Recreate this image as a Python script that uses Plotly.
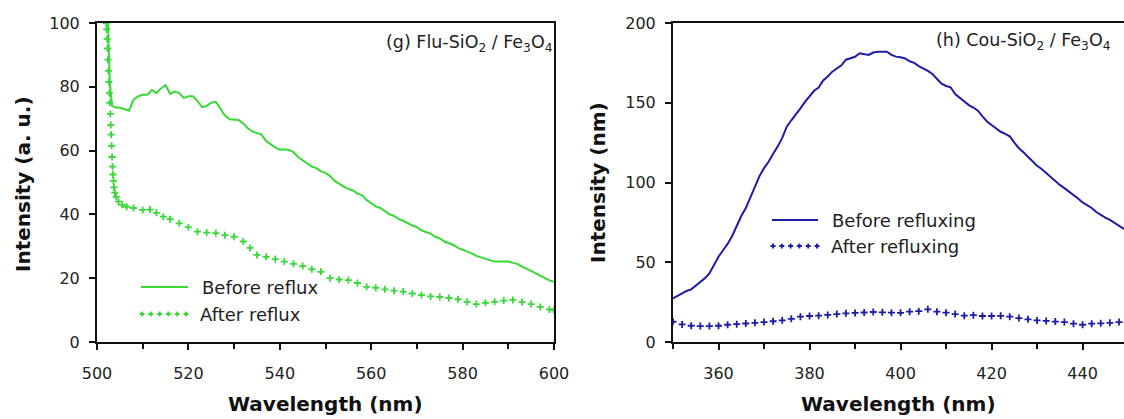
import plotly.graph_objects as go

# ---------------- data: panel (g) Flu-SiO2 / Fe3O4 ----------------
g_before_x = [502.4, 502.8, 503.3, 504, 505, 506, 507, 508, 509, 510, 511, 512, 513, 514, 515, 516,
              517, 518, 519, 520, 521, 522, 523, 524, 525, 526, 527, 528, 529, 530, 531, 532, 533,
              534, 535, 536, 537, 538, 539, 540, 541, 542, 543, 544, 545, 546, 547, 548, 549, 550,
              551, 552, 553, 554, 555, 556, 557, 558, 559, 560, 561, 562, 563, 564, 565, 566, 567,
              568, 569, 570, 571, 572, 573, 574, 575, 576, 577, 578, 579, 580, 581, 582, 583, 584,
              585, 586, 587, 588, 589, 590, 591, 592, 593, 594, 595, 596, 597, 598, 599, 600]
g_before_y = [101, 81, 74, 73.5, 73.5, 73, 72.5, 76, 77, 77.5, 77.5, 79, 78, 79.5, 80.5, 77.8,
              78.5, 78, 76.5, 77, 77, 75.5, 73.6, 74, 75, 75.3, 73, 71, 69.8, 69.8, 69.6, 68.5, 67,
              66, 65.6, 65, 63, 62, 61, 60.3, 60.4, 60.2, 59.5, 58, 57, 56, 55, 54.5, 53.5, 53,
              52, 50.5, 49.5, 48.7, 48, 47.5, 46.5, 46, 44.5, 43.5, 42.5, 42, 41, 40, 39.5, 38.5, 38,
              37.2, 36.5, 36, 35, 34.5, 34, 33, 32.5, 31.5, 31, 30.4, 29.5, 29, 28.5, 27.8, 27, 26.5,
              26, 25.5, 25.2, 25.2, 25.3, 25.2, 24.8, 24.5, 23.6, 23, 22.3, 21.5, 20.8, 20, 19.3, 18.9]

g_after_x = [502.0, 502.1, 502.2, 502.3, 502.4, 502.5, 502.6, 502.7, 502.8, 502.9, 503.0, 503.1,
             503.2, 503.3, 503.4, 503.5, 503.6, 503.7, 503.9, 504.2, 504.7, 505.5, 506.5, 508,
             510, 511.6, 513, 514.5, 516, 518, 520, 522, 524, 526, 528, 530, 532, 533.5, 535, 537,
             539, 541, 543, 545, 547, 549, 551, 553, 555, 557, 559, 561, 563, 565, 567, 569, 571,
             573, 575, 577, 579, 581, 583, 585, 587, 589, 591, 593, 595, 597, 599, 600]
g_after_y = [100, 98, 95, 92, 88.5, 85, 81.5, 78, 75, 71.5, 68, 65, 61.5, 58, 55, 52.5, 50.5, 48.5,
             46.8, 45.5, 44, 43, 42.4, 42, 41.4, 41.5, 40.5, 39.3, 38.5, 37.2, 36, 34.6, 34.3, 34.1,
             33.5, 33, 31.5, 29.5, 27.3, 26.7, 26, 25.2, 24.5, 23.8, 22.8, 22, 20, 19.6, 19.4, 18.5,
             17.3, 17, 16.5, 16.1, 15.8, 15.2, 14.7, 14.3, 14.1, 13.8, 13.4, 12.6, 11.9, 12.3, 12.6,
             13, 13.2, 12.5, 11.9, 11, 10.2, 10]

# ---------------- data: panel (h) Cou-SiO2 / Fe3O4 ----------------
h_before_x = list(range(350, 451))
h_before_y = [27.4, 29, 30.5, 32, 33, 35.2, 37.5, 40, 43, 48, 53.5, 57.5, 61.5, 66.5, 73, 79, 84,
              91, 98, 104, 109, 113, 118, 122.5, 128, 135, 139, 142.5, 146.5, 150.5, 154, 157.5,
              159.5, 164, 166.5, 169.5, 171.5, 173.5, 177, 178, 178.8, 181, 180.5, 180, 181.5, 182,
              182, 182, 180, 178.9, 178.5, 177.8, 176, 175, 173, 171.6, 170, 168, 165, 162, 160.5,
              159.7, 155.5, 153, 151, 148.5, 147, 145, 141.5, 138.3, 136, 134, 131.8, 130.5, 129,
              125, 121.5, 119, 116, 113, 110.5, 108.5, 106, 103.5, 100.5, 98.5, 96.5, 94.5, 92.5,
              90, 87.5, 86, 84, 81.5, 79.5, 78, 76.5, 74.5, 72.5, 71, 69.5]

h_after_x = list(range(350, 451, 2))
h_after_y = [12.7, 11, 10.2, 10, 10, 10.2, 10.8, 11.2, 11.6, 12, 12.5, 13, 13.6, 14.5, 15.9, 16.3,
             16.5, 17, 17.5, 18, 18.2, 18.5, 18.8, 18.6, 18.4, 18.3, 19, 19.3, 20.5, 19, 18.4, 17.5,
             16.5, 16.8, 16.3, 16.3, 16.4, 15.9, 15, 14.2, 13.5, 13.2, 12.8, 12.5, 11.5, 10.8, 11.5,
             11.7, 12, 12.5, 12.7]

g_xticks = [500, 520, 540, 560, 580, 600]
g_yticks = [0, 20, 40, 60, 80, 100]
h_xticks = [360, 380, 400, 420, 440]
h_yticks = [0, 50, 100, 150, 200]

names_g = ["Before reflux", "After reflux"]
names_h = ["Before refluxing", "After refluxing"]

# ---------------- style ----------------
W, H = 1124, 419
GREEN = "rgb(55,216,55)"
BLUE = "rgb(28,28,165)"
AXC = "#111111"
TICKFONT = dict(family="DejaVu Sans", size=16, color="#222222")
TITLEFONT = dict(family="DejaVu Sans", size=20, color="#111111")


def px(x):
    return x / W


def py(y):
    return 1 - y / H


fig = go.Figure()
fig.add_trace(go.Scatter(x=g_before_x, y=g_before_y, mode="lines", name=names_g[0],
                         line=dict(color=GREEN, width=2), xaxis="x", yaxis="y", showlegend=False))
fig.add_trace(go.Scatter(x=g_after_x, y=g_after_y, mode="markers", name=names_g[1],
                         marker=dict(symbol="cross-thin", size=5, color=GREEN,
                                     line=dict(color=GREEN, width=1.8)),
                         xaxis="x", yaxis="y", showlegend=False))
fig.add_trace(go.Scatter(x=h_before_x, y=h_before_y, mode="lines", name=names_h[0],
                         line=dict(color=BLUE, width=2), xaxis="x2", yaxis="y2", showlegend=False))
fig.add_trace(go.Scatter(x=h_after_x, y=h_after_y, mode="markers", name=names_h[1],
                         marker=dict(symbol="cross-thin", size=5, color=BLUE,
                                     line=dict(color=BLUE, width=1.8)),
                         xaxis="x2", yaxis="y2", showlegend=False))

ydom = [py(342), py(23)]
common = dict(showgrid=False, zeroline=False, showline=True, linecolor=AXC, linewidth=2,
              ticks="outside", ticklen=6, tickwidth=2, tickcolor=AXC, tickfont=TICKFONT,
              automargin=False)
minor = dict(ticks="outside", dtick=10, ticklen=5, tickwidth=2, tickcolor=AXC, showgrid=False)

fig.update_layout(
    width=W, height=H,
    margin=dict(l=0, r=0, t=0, b=0),
    paper_bgcolor="white", plot_bgcolor="white",
    xaxis=dict(domain=[px(97), px(554)], range=[500, 600], tickvals=g_xticks,
               anchor="y", mirror=True, ticklabelstandoff=10, minor=minor, **common),
    yaxis=dict(domain=ydom, range=[0, 100], tickvals=g_yticks, anchor="x", mirror=True,
               ticklabelstandoff=6, **common),
    xaxis2=dict(domain=[px(673), 1.0], range=[350, 449.1], tickvals=h_xticks,
                anchor="y2", mirror=True, ticklabelstandoff=10, minor=minor, **common),
    yaxis2=dict(domain=ydom, range=[0, 200], tickvals=h_yticks, anchor="x2", mirror=False,
                ticklabelstandoff=6, **common),
    showlegend=False,
)

ann = []
# axis titles
ann.append(dict(text="<b>Wavelength (nm)</b>", x=px(325), y=py(404), xref="paper", yref="paper",
                showarrow=False, font=TITLEFONT, xanchor="center", yanchor="middle"))
ann.append(dict(text="<b>Wavelength (nm)</b>", x=px(898), y=py(404), xref="paper", yref="paper",
                showarrow=False, font=TITLEFONT, xanchor="center", yanchor="middle"))
ann.append(dict(text="<b>Intensity (a. u.)</b>", x=px(23), y=py(184), xref="paper", yref="paper",
                showarrow=False, font=TITLEFONT, textangle=-90, xanchor="center", yanchor="middle"))
ann.append(dict(text="<b>Intensity (nm)</b>", x=px(598), y=py(183), xref="paper", yref="paper",
                showarrow=False, font=TITLEFONT, textangle=-90, xanchor="center", yanchor="middle"))
# panel labels
LABELFONT = dict(family="DejaVu Sans", size=17.5, color="#222222")
ann.append(dict(text="(g) Flu-SiO<sub>2</sub> / Fe<sub>3</sub>O<sub>4</sub>", x=px(555), y=py(43),
                xref="paper", yref="paper", showarrow=False, font=LABELFONT,
                xanchor="right", yanchor="middle"))
ann.append(dict(text="(h) Cou-SiO<sub>2</sub> / Fe<sub>3</sub>O<sub>4</sub>", x=px(934), y=py(41),
                xref="paper", yref="paper", showarrow=False, font=LABELFONT,
                xanchor="left", yanchor="middle"))

LEGFONT = dict(family="DejaVu Sans", size=18, color="#222222")
shapes = []


def legend_entry(x0, x1, y, text, color, kind):
    if kind == "line":
        shapes.append(dict(type="line", xref="paper", yref="paper", x0=px(x0), x1=px(x1),
                           y0=py(y), y1=py(y), line=dict(color=color, width=2)))
    else:
        n = 6
        step = (x1 - x0) / (n - 1)
        d = ""
        for i in range(n):
            cx = x0 + i * step
            d += f"M{px(cx - 2.5)},{py(y)} L{px(cx + 2.5)},{py(y)} M{px(cx)},{py(y - 2.5)} L{px(cx)},{py(y + 2.5)} "
        shapes.append(dict(type="path", xref="paper", yref="paper", path=d.strip(),
                           line=dict(color=color, width=1.8)))
    ann.append(dict(text=text, x=px(x1 + 12), y=py(y), xref="paper", yref="paper",
                    showarrow=False, font=LEGFONT, xanchor="left", yanchor="middle"))


legend_entry(141, 188, 287, names_g[0], GREEN, "line")
legend_entry(142, 186, 314, names_g[1], GREEN, "markers")
legend_entry(772, 818, 220, names_h[0], BLUE, "line")
legend_entry(773, 817, 246, names_h[1], BLUE, "markers")

fig.update_layout(annotations=ann, shapes=shapes)
fig.write_html(
    "out.html",
    config={"displayModeBar": False},
    post_script="document.body.style.margin='0px';document.body.style.overflow='hidden';",
)
